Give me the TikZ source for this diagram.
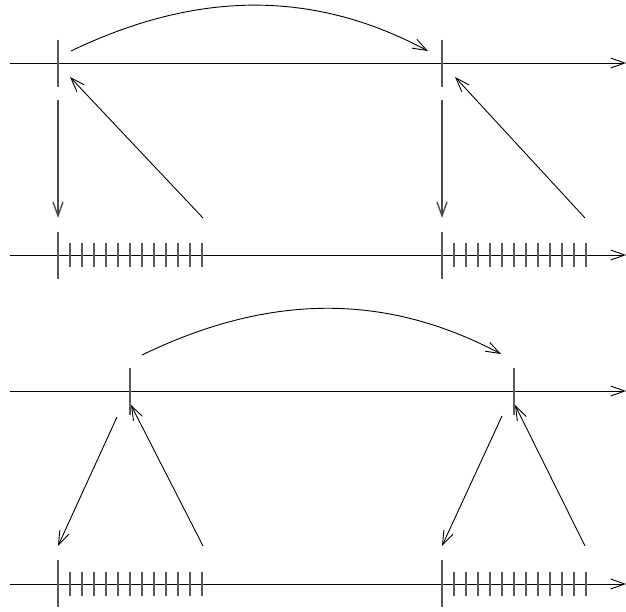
\documentclass[tikz,border=0pt]{standalone}
\usetikzlibrary{arrows.meta}
\begin{document}
\begin{tikzpicture}[x=1pt,y=-1pt,
  tip/.style={-{Straight Barb[length=14pt,width=10pt]}},
  axisline/.style={line width=0.9pt, tip},
  arr/.style={line width=0.9pt, tip},
  varr/.style={line width=1.4pt, black!70, tip},
  bigtick/.style={line width=1.5pt, black!65},
  smalltick/.style={line width=1.5pt, black!65},
]
\useasboundingbox (0,0) rectangle (626,612);

% ---------- top diagram ----------
\coordinate (A1s) at (10,63);  \coordinate (A1e) at (626,63);
\coordinate (A2s) at (10,255); \coordinate (A2e) at (626,255);
\draw[axisline] (A1s) -- (A1e);
\draw[axisline] (A2s) -- (A2e);

\draw[bigtick] (58,40) -- (58,87);
\draw[bigtick] (442,40) -- (442,87);
\draw[bigtick] (58,232) -- (58,279);
\draw[bigtick] (442,232) -- (442,279);
\foreach \i in {1,...,12} {
  \draw[smalltick] ({58+12*\i},243) -- ++(0,24);
  \draw[smalltick] ({442+12*\i},243) -- ++(0,24);
}

\coordinate (C1s) at (71,51); \coordinate (C1e) at (428,51);
\draw[arr] (C1s) .. controls (198,-10) and (314,-10) .. (C1e);

\coordinate (D1s) at (58,100);  \coordinate (D1e) at (58,218);
\coordinate (D2s) at (442,100); \coordinate (D2e) at (442,218);
\draw[varr] (D1s) -- (D1e);
\draw[varr] (D2s) -- (D2e);

\coordinate (U1s) at (203,218); \coordinate (U1e) at (70,77);
\coordinate (U2s) at (585,218); \coordinate (U2e) at (455,77);
\draw[arr] (U1s) -- (U1e);
\draw[arr] (U2s) -- (U2e);

% ---------- bottom diagram ----------
\coordinate (A3s) at (10,391); \coordinate (A3e) at (626,391);
\coordinate (A4s) at (10,584); \coordinate (A4e) at (626,584);
\draw[axisline] (A3s) -- (A3e);
\draw[axisline] (A4s) -- (A4e);

\draw[bigtick] (130,368) -- (130,415);
\draw[bigtick] (514,368) -- (514,415);
\draw[bigtick] (58,560) -- (58,607);
\draw[bigtick] (442,560) -- (442,607);
\foreach \i in {1,...,12} {
  \draw[smalltick] ({58+12*\i},572) -- ++(0,24);
  \draw[smalltick] ({442+12*\i},572) -- ++(0,24);
}

\coordinate (C2s) at (142,355); \coordinate (C2e) at (501,354);
\draw[arr] (C2s) .. controls (270,293) and (386,293) .. (C2e);

\coordinate (L1s) at (117,417); \coordinate (L1e) at (58,546);
\coordinate (L2s) at (502,416); \coordinate (L2e) at (442,546);
\draw[arr] (L1s) -- (L1e);
\draw[arr] (L2s) -- (L2e);

\coordinate (R1s) at (203,546); \coordinate (R1e) at (131,405);
\coordinate (R2s) at (585,546); \coordinate (R2e) at (515,405);
\draw[arr] (R1s) -- (R1e);
\draw[arr] (R2s) -- (R2e);
\end{tikzpicture}
\end{document}
